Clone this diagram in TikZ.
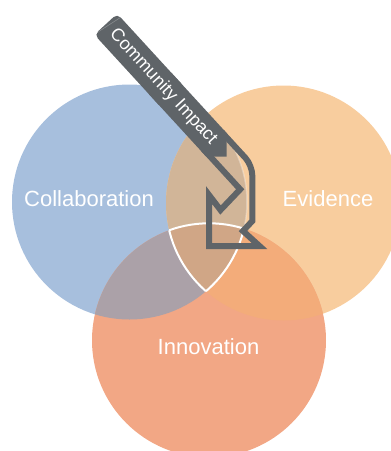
\documentclass[tikz,border=0pt]{standalone}
\usepackage{fontspec}
\setmainfont{Liberation Sans}
\begin{document}
\begin{tikzpicture}[x=1pt,y=-1pt,
  setlabel/.style={text=white,font=\fontsize{22}{26}\selectfont,inner sep=0pt},
  bandtext/.style={text=white,font=\fontsize{18}{20}\selectfont,inner sep=0pt},
  rim/.style={draw=white,line width=2pt},
  arrowline/.style={draw=slate,line width=6pt,line join=miter}]
\definecolor{collab}{HTML}{A7BFDD}
\definecolor{evid}{HTML}{F8CD9E}
\definecolor{innov}{HTML}{F2A785}
\definecolor{collabevid}{HTML}{D1B598}
\definecolor{collabinnov}{HTML}{ABA1A8}
\definecolor{evidinnov}{HTML}{F3AC7A}
\definecolor{allthree}{HTML}{D0A686}
\definecolor{slate}{HTML}{5F6468}

\path[use as bounding box] (0,0) rectangle (391,451);
\clip (0,0) rectangle (391,451);

% circle centres
\coordinate (cb) at (129.5,202);
\coordinate (co) at (283.5,203);
\coordinate (cs) at (209,340.3);

% single sets
\fill[collab] (cb) circle[radius=117.5pt];
\fill[evid]   (co) circle[radius=117.5pt];
\fill[innov]  (cs) circle[radius=117pt];

% pairwise overlaps
\begin{scope}
  \clip (cb) circle[radius=117.5pt];
  \fill[collabevid]  (co) circle[radius=117.5pt];
  \fill[collabinnov] (cs) circle[radius=117pt];
\end{scope}
\begin{scope}
  \clip (co) circle[radius=117.5pt];
  \fill[evidinnov] (cs) circle[radius=117pt];
  \draw[white,opacity=.3,line width=1.5pt] (cb) circle[radius=117.5pt];
\end{scope}

% centre region with its white rim
\begin{scope}
  \clip (cb) circle[radius=117.5pt];
  \clip (co) circle[radius=117.5pt];
  \fill[allthree] (cs) circle[radius=117pt];
  \draw[rim] (cs) circle[radius=117pt];
\end{scope}
\begin{scope}
  \clip (cs) circle[radius=117pt];
  \clip (co) circle[radius=117.5pt];
  \draw[rim] (cb) circle[radius=117.5pt];
\end{scope}
\begin{scope}
  \clip (cs) circle[radius=117pt];
  \clip (cb) circle[radius=117.5pt];
  \draw[rim] (co) circle[radius=117.5pt];
\end{scope}

% set labels
\node[setlabel] (collaboration) at (89,199) {Collaboration};
\node[setlabel] (evidence) at (328,199) {Evidence};
\node[setlabel] (innovation) at (208.5,347) {Innovation};

% outlined part of the bent arrow
\coordinate (s0) at (222,132.4);
\coordinate (sc) at (252.3,165.4);
\coordinate (sv) at (252.3,221);
\coordinate (sa) at (243,231);
\coordinate (stip) at (259.5,246);
\coordinate (sbl) at (209,246);
\coordinate (stl) at (209,195);
\coordinate (snotch) at (220.5,210);
\coordinate (sin) at (240.2,189.3);
\coordinate (send) at (203,148.7);
\draw[arrowline] (s0) [rounded corners=10pt] -- (sc) [sharp corners] -- (sv) -- (sa) -- (stip)
  -- (sbl) -- (stl) -- (snotch) -- (sin) -- (send);

% filled band with rounded end
\coordinate (a1) at (117.2,13.7);
\coordinate (a2) at (94.4,34.7);
\coordinate (m1) at (184.8,87.4);
\coordinate (m2) at (162,108.4);
\coordinate (n1) at (171.3,72.7);
\coordinate (n2) at (148.5,93.7);
\coordinate (a3) at (206.3,156.7);
\coordinate (a4) at (226.7,156.7);
\coordinate (a5) at (226.7,133.1);
\fill[slate,rounded corners=5pt] (a1) -- (a2) -- (m2) -- (m1) -- cycle;
\fill[slate] (n1) -- (n2) -- (a3) -- (a4) -- (a5) -- cycle;
\draw[white,opacity=.25,line width=.6pt] (93.3,35) -- (121.7,16.7);

\node[bandtext,rotate=-47.5] (impact) at (163.3,86.8) {Community Impact};
\end{tikzpicture}
\end{document}
